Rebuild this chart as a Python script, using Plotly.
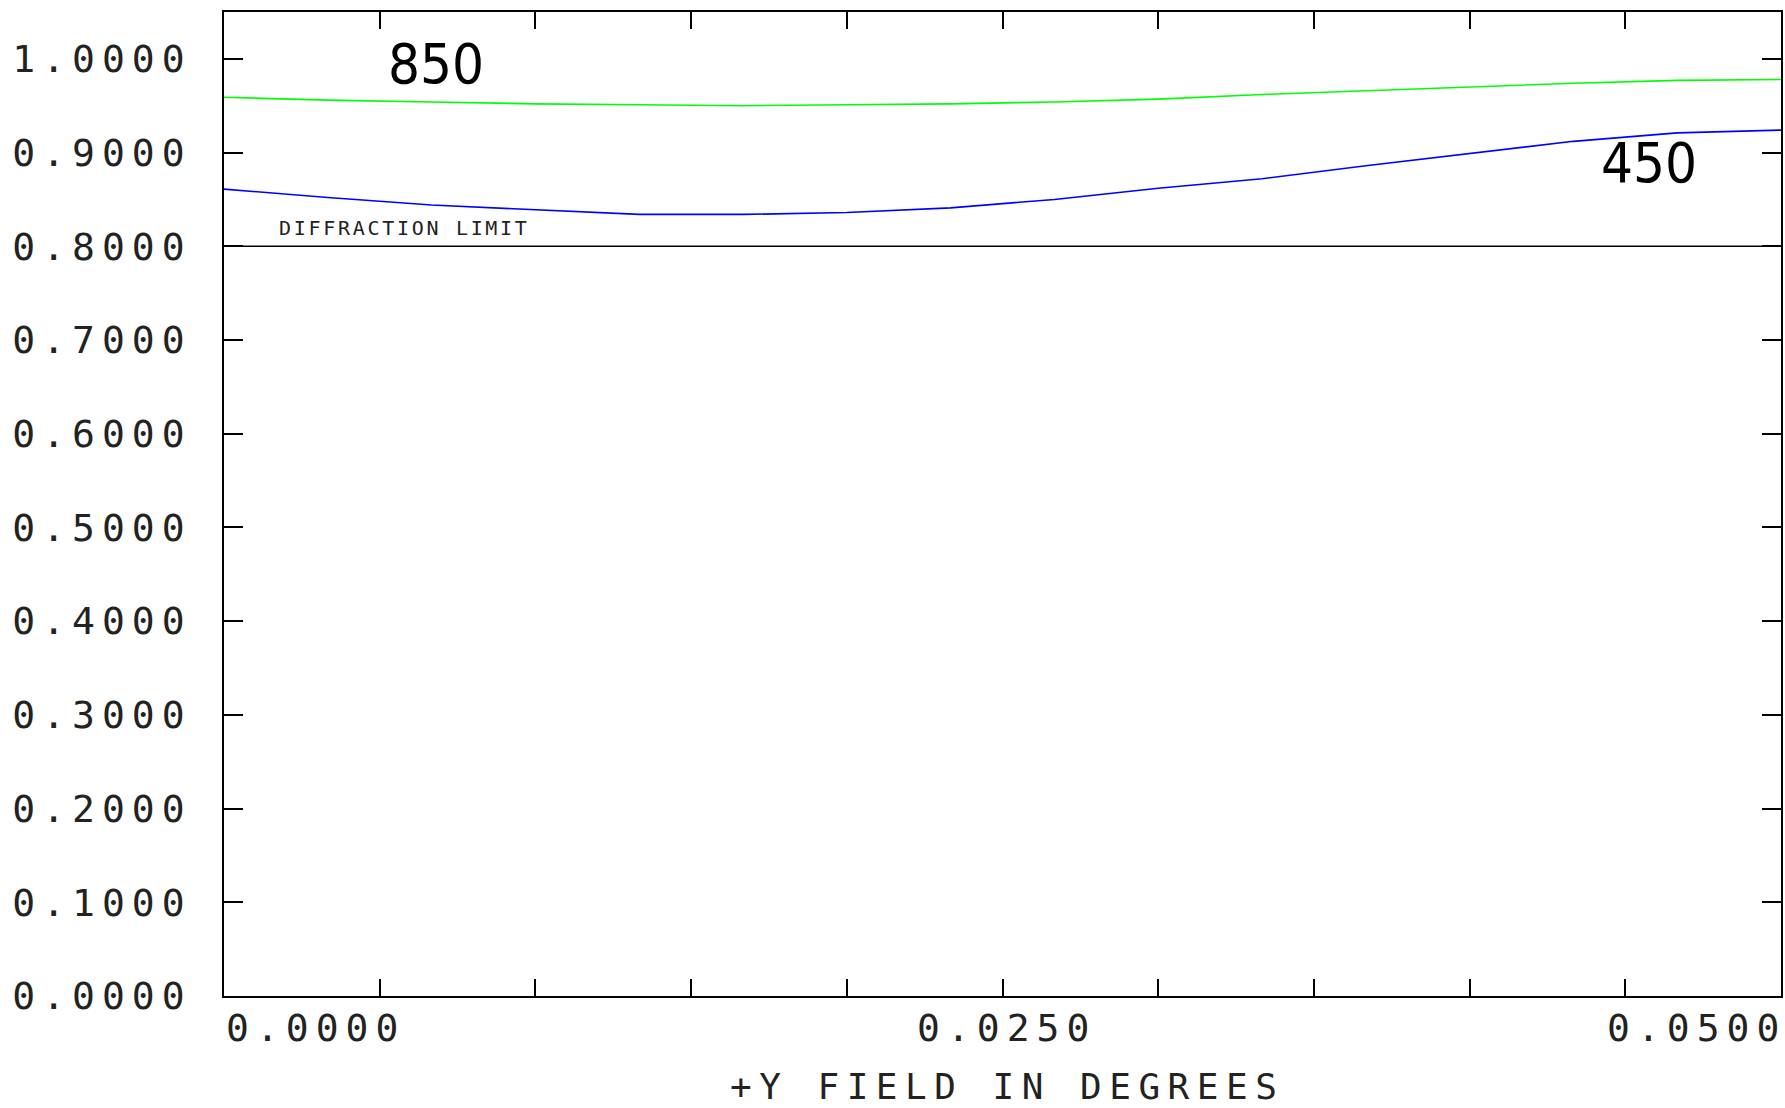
import plotly.graph_objects as go

# ---- data ----
field_deg = [i * 0.05 / 15 for i in range(16)]
mtf_850 = [0.959, 0.956, 0.954, 0.952, 0.951, 0.950, 0.951, 0.952,
           0.954, 0.957, 0.962, 0.966, 0.970, 0.974, 0.977, 0.978]
mtf_450 = [0.861, 0.852, 0.844, 0.839, 0.834, 0.834, 0.836, 0.841,
           0.850, 0.862, 0.872, 0.886, 0.899, 0.912, 0.921, 0.924]
diffraction_limit = 0.8
x_tick_vals = [0.0, 0.025, 0.05]
x_tick_text = ["0.0000", "0.0250", "0.0500"]
y_tick_vals = [round(0.1 * i, 1) for i in range(11)]
y_tick_text = ["%.4f" % v for v in y_tick_vals]
x_label = "+Y FIELD IN DEGREES"

MONO = "DejaVu Sans Mono"
LS = 7
TXT = "#222"


def spaced(t, ls):
    return '<span style="letter-spacing:%spx">%s</span>' % (ls, t)


fig = go.Figure()
fig.add_trace(go.Scatter(x=[0, 0.05], y=[diffraction_limit, diffraction_limit],
                         mode="lines", line=dict(color="black", width=1.6),
                         hoverinfo="skip", showlegend=False))
fig.add_trace(go.Scatter(x=field_deg, y=mtf_850, mode="lines",
                         line=dict(color="#00ff00", width=1.6), showlegend=False))
fig.add_trace(go.Scatter(x=field_deg, y=mtf_450, mode="lines",
                         line=dict(color="#0000ff", width=1.6), showlegend=False))

fig.update_xaxes(range=[0, 0.05], tickmode="linear", tick0=0, dtick=0.005,
                 ticks="inside", ticklen=17, tickwidth=1.5, tickcolor="black",
                 showticklabels=False, showgrid=False, zeroline=False,
                 showline=True, linecolor="black", linewidth=1.5, mirror="ticks")
fig.update_yaxes(range=[0, 1.05], tickmode="array", tickvals=y_tick_vals,
                 ticktext=[spaced(t, LS) for t in y_tick_text],
                 ticks="inside", ticklen=19, tickwidth=1.5, tickcolor="black",
                 tickfont=dict(family=MONO, size=38, color=TXT),
                 ticklabelstandoff=23,
                 showgrid=False, zeroline=False,
                 showline=True, linecolor="black", linewidth=1.5, mirror="ticks")

anns = []
anchors = ["left", "center", "right"]
shifts = [0, LS / 2, LS]
for v, t, a, s in zip(x_tick_vals, x_tick_text, anchors, shifts):
    anns.append(dict(x=v, y=-0.0324, xref="x", yref="paper", text=spaced(t, LS),
                     showarrow=False, xanchor=a, yanchor="middle", xshift=s,
                     font=dict(family=MONO, size=38, color=TXT)))
anns.append(dict(x=0.5, y=-0.0915, xref="paper", yref="paper", text=spaced(x_label, 7.5),
                 showarrow=False, xanchor="center", yanchor="middle", xshift=4,
                 font=dict(family=MONO, size=36, color=TXT)))
anns.append(dict(x=0.00169, y=0.820, xref="x", yref="y", text=spaced("DIFFRACTION LIMIT", 2.7),
                 showarrow=False, xanchor="left", yanchor="middle",
                 font=dict(family=MONO, size=20, color=TXT)))
anns.append(dict(x=0.00682, y=0.9948, xref="x", yref="y", text="850",
                 showarrow=False, xanchor="center", yanchor="middle",
                 font=dict(family="Liberation Sans Narrow, DejaVu Sans Condensed", size=56, color="black")))
anns.append(dict(x=0.04577, y=0.889, xref="x", yref="y", text="450",
                 showarrow=False, xanchor="center", yanchor="middle",
                 font=dict(family="Liberation Sans Narrow, DejaVu Sans Condensed", size=56, color="black")))

fig.update_layout(width=1785, height=1108, margin=dict(l=224, r=2, t=12, b=112),
                  paper_bgcolor="white", plot_bgcolor="white", annotations=anns)

fig.write_html("out.html")
